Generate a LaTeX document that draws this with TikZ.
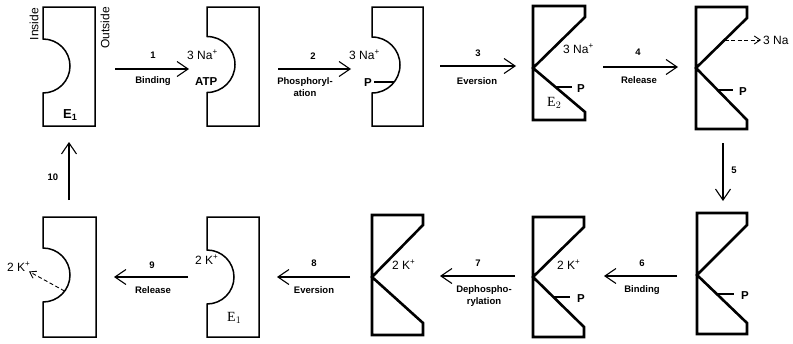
\documentclass[tikz,border=0pt]{standalone}
\usepackage{fontspec}
\setmainfont{Liberation Sans}
\newfontfamily\serifE{Liberation Serif}
\usetikzlibrary{arrows.meta,calc}
\begin{document}
\begin{tikzpicture}[x=1pt,y=-1pt,
  eshape/.style={line width=1.5pt},
  kshape/.style={line width=2.6pt, line join=miter},
  pline/.style={line width=1.2pt},
  fwd/.style={line width=1.2pt, -{Straight Barb[length=11pt,width=15pt,line width=1.1pt]}},
  rel/.style={line width=0.9pt, dash pattern=on 4pt off 2.5pt, -{Straight Barb[length=6pt,width=8pt,line width=0.9pt]}},
  num/.style={font=\bfseries\fontsize{9.5}{10}\selectfont, inner sep=0pt},
  lbl/.style={font=\bfseries\fontsize{9.5}{11.5}\selectfont, align=center, inner sep=0pt},
  ion/.style={font=\fontsize{12}{13}\selectfont, inner sep=0pt, anchor=base west},
  bp/.style={font=\bfseries\fontsize{11.5}{13}\selectfont, inner sep=0pt, anchor=base west},
  side/.style={font=\fontsize{12}{13}\selectfont, inner sep=0pt, rotate=90},
  enz/.style={font=\serifE\fontsize{14}{15}\selectfont, inner sep=0pt, anchor=base west},
]
\useasboundingbox (0,0) rectangle (793,343);

% ---- top row ----
% 1: E1
\draw[eshape] (43,7) -- (95,7) -- (95,126) -- (43,126) -- (43,93)
  arc[start angle=90,end angle=-90,radius=27] -- cycle;
\node[side] (inside) at (34,24) {Inside};
\node[side] (outside) at (105,28) {Outside};
\node[font=\bfseries\fontsize{13}{14}\selectfont, inner sep=0pt, anchor=base west] (e1top) at (63,118) {E\textsubscript{1}};

% 2
\draw[eshape] (207,7) -- (259,7) -- (259,126) -- (207,126) -- (207,92.5)
  arc[start angle=90,end angle=-90,radius=28] -- cycle;
\node[ion] (na2) at (187,59) {3 Na\textsuperscript{+}};
\node[bp] (atp) at (195,85) {ATP};

% 3
\draw[eshape] (372,7) -- (423,7) -- (423,126) -- (372,126) -- (372,93)
  arc[start angle=90,end angle=-90,radius=28] -- cycle;
\node[ion] (na3) at (349,59) {3 Na\textsuperscript{+}};
\node[bp] (p3) at (364,86) {P};
\coordinate (p3a) at (374,82);
\coordinate (p3b) at (394,82);
\draw[pline] (p3a) -- (p3b);

% 4: E2
\draw[kshape] (533,6) -- (585,6) -- (585,17) -- (533,68) -- (585,112) -- (585,120) -- (533,120) -- cycle;
\node[ion] (na4) at (563,53) {3 Na\textsuperscript{+}};
\node[bp] (p4) at (577,92) {P};
\coordinate (p4a) at (555.5,87);
\coordinate (p4b) at (572,87);
\draw[pline] (p4a) -- (p4b);
\node[enz] (e2) at (547,106) {E$_2$};

% 5
\draw[kshape] (696,7) -- (747,7) -- (747,18) -- (696,68) -- (747,120) -- (747,129) -- (696,129) -- cycle;
\coordinate (d5a) at (724.6,40);
\coordinate (d5b) at (761,40);
\draw[rel] (d5a) -- (d5b);
\node[ion] (na5) at (763,44.5) {3 Na};
\node[bp] (p5) at (739,95) {P};
\coordinate (p5a) at (718,90);
\coordinate (p5b) at (733,90);
\draw[pline] (p5a) -- (p5b);

% ---- bottom row ----
% 6
\draw[kshape] (697,213) -- (747,213) -- (747,225) -- (697,275) -- (747,323) -- (747,334) -- (697,334) -- cycle;
\node[bp] (p6) at (741,299) {P};
\coordinate (p6a) at (717,294);
\coordinate (p6b) at (734,294);
\draw[pline] (p6a) -- (p6b);

% 7
\draw[kshape] (533,217) -- (584,217) -- (584,227) -- (533,277) -- (584,327) -- (584,337) -- (533,337) -- cycle;
\node[ion] (k7) at (557,269) {2 K\textsuperscript{+}};
\node[bp] (p7) at (577,302) {P};
\coordinate (p7a) at (553,297);
\coordinate (p7b) at (570,297);
\draw[pline] (p7a) -- (p7b);

% 8
\draw[kshape] (372,215) -- (423,215) -- (423,225) -- (372,277) -- (423,323) -- (423,335) -- (372,335) -- cycle;
\node[ion] (k8) at (392,269) {2 K\textsuperscript{+}};

% 9: E1
\draw[eshape] (207,217) -- (259,217) -- (259,337) -- (207,337) -- (207,304)
  arc[start angle=90,end angle=-90,radius=27] -- cycle;
\node[ion] (k9) at (195,264) {2 K\textsuperscript{+}};
\node[enz] (e1b) at (227,321) {E$_1$};

% 10
\draw[eshape] (43,217) -- (96,217) -- (96,337) -- (43,337) -- (43,302)
  arc[start angle=90,end angle=-90,radius=27] -- cycle;
\node[ion] (k10) at (7,271) {2 K\textsuperscript{+}};
\coordinate (d10a) at (64.5,291);
\coordinate (d10b) at (29,271.5);
\draw[rel] (d10a) -- (d10b);

% ---- step arrows ----
\coordinate (a1s) at (115,69);  \coordinate (a1e) at (189,69);
\coordinate (a2s) at (278,69);  \coordinate (a2e) at (351,69);
\coordinate (a3s) at (440,66);  \coordinate (a3e) at (516,66);
\coordinate (a4s) at (603,67);  \coordinate (a4e) at (678,67);
\coordinate (a5s) at (723,143); \coordinate (a5e) at (723,201);
\coordinate (a6s) at (677,276); \coordinate (a6e) at (604,276);
\coordinate (a7s) at (515,276); \coordinate (a7e) at (440,276);
\coordinate (a8s) at (350,277); \coordinate (a8e) at (277,277);
\coordinate (a9s) at (188,277); \coordinate (a9e) at (114,277);
\coordinate (a10s) at (69,200); \coordinate (a10e) at (69,142);
\foreach \i in {1,...,10} {\draw[fwd] (a\i s) -- (a\i e);}

\node[num] (n1) at (153,55) {1};
\node[lbl] (t1) at (153,81) {Binding};
\node[num] (n2) at (313,56) {2};
\node[lbl] (t2) at (305,87) {Phosphoryl-\\ation};
\node[num] (n3) at (478,53) {3};
\node[lbl] (t3) at (477,81) {Eversion};
\node[num] (n4) at (638,52) {4};
\node[lbl] (t4) at (639,80) {Release};
\node[num] (n5) at (734,170) {5};
\node[num] (n6) at (642,263) {6};
\node[lbl] (t6) at (642,290) {Binding};
\node[num] (n7) at (478,263) {7};
\node[lbl] (t7) at (484,296) {Dephospho-\\[1pt]rylation};
\node[num] (n8) at (314,263) {8};
\node[lbl] (t8) at (314,290) {Eversion};
\node[num] (n9) at (152,265) {9};
\node[lbl] (t9) at (153,290) {Release};
\node[num] (n10) at (53,177) {10};
\end{tikzpicture}
\end{document}
